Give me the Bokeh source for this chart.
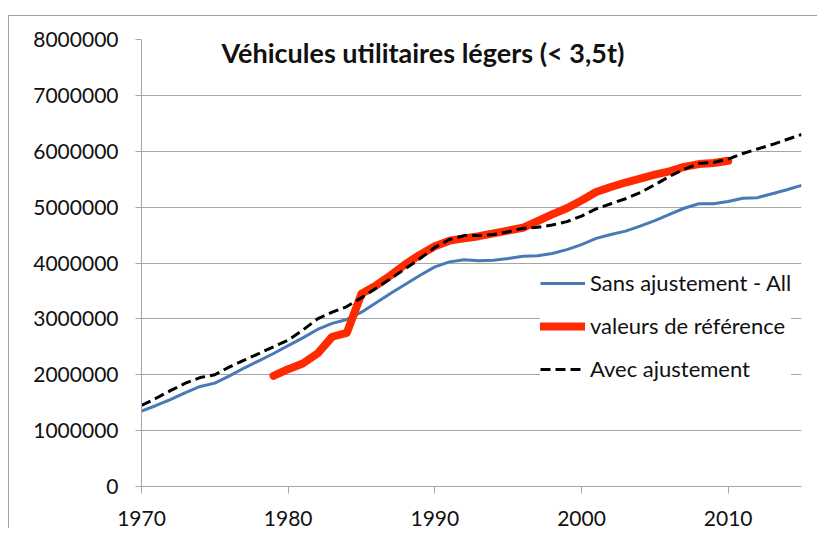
from bokeh.plotting import figure
from bokeh.models import Label, Legend, LegendItem, FixedTicker, PrintfTickFormatter, Range1d
from bokeh.embed import file_html
from bokeh.resources import INLINE

years = list(range(1970, 2016))
sans_ajustement = [1.35, 1.45, 1.56, 1.68, 1.79, 1.85, 1.98, 2.12, 2.25, 2.38,
                   2.52, 2.66, 2.81, 2.92, 2.99, 3.12, 3.29, 3.46, 3.62, 3.78,
                   3.93, 4.02, 4.06, 4.04, 4.05, 4.08, 4.12, 4.13, 4.17, 4.24,
                   4.33, 4.44, 4.51, 4.57, 4.66, 4.76, 4.87, 4.98, 5.06, 5.06,
                   5.10, 5.16, 5.17, 5.24, 5.31, 5.39]
avec_ajustement = [1.45, 1.58, 1.72, 1.85, 1.95, 2.00, 2.14, 2.26, 2.38, 2.50,
                   2.62, 2.80, 3.00, 3.12, 3.22, 3.38, 3.55, 3.72, 3.90, 4.08,
                   4.28, 4.42, 4.49, 4.49, 4.51, 4.56, 4.62, 4.64, 4.68, 4.74,
                   4.84, 4.97, 5.06, 5.15, 5.26, 5.40, 5.55, 5.68, 5.78, 5.80,
                   5.86, 5.96, 6.04, 6.12, 6.21, 6.30]
ref_years = list(range(1979, 2011))
valeurs_reference = [1.98, 2.10, 2.20, 2.38, 2.68, 2.75, 3.45, 3.60, 3.78, 3.98,
                     4.15, 4.30, 4.40, 4.44, 4.48, 4.53, 4.58, 4.63, 4.75, 4.87,
                     4.98, 5.12, 5.27, 5.36, 5.44, 5.51, 5.58, 5.64, 5.72, 5.77,
                     5.79, 5.83]
x_ticks = [1970, 1980, 1990, 2000, 2010]
y_ticks = [0, 1000000, 2000000, 3000000, 4000000, 5000000, 6000000, 7000000, 8000000]
title_text = "Véhicules utilitaires légers (< 3,5t)"
labels = ["Sans ajustement - All", "valeurs de référence", "Avec ajustement"]

M = 1000000
sans = [v * M for v in sans_ajustement]
avec = [v * M for v in avec_ajustement]
ref = [v * M for v in valeurs_reference]

FONT = "Lato"
GRAY = "#a6a6a6"

p = figure(frame_width=660, frame_height=447, output_backend="svg", toolbar_location=None,
           x_range=Range1d(1970, 2015), y_range=Range1d(0, 8000000),
           min_border_left=132, min_border_top=23, min_border_right=16, min_border_bottom=41)
p.styles = {"margin-left": "8px", "margin-top": "15px",
            "border-left": "1px solid #a0a0a0", "border-top": "1px solid #a0a0a0"}
p.outline_line_color = None
p.background_fill_color = "white"
p.border_fill_color = "white"

p.xgrid.visible = False
p.ygrid.grid_line_color = GRAY
p.ygrid.grid_line_width = 1

p.xaxis.ticker = FixedTicker(ticks=x_ticks)
p.yaxis.ticker = FixedTicker(ticks=y_ticks)
p.yaxis.formatter = PrintfTickFormatter(format="%d")
for ax in (p.xaxis, p.yaxis):
    ax.axis_line_color = GRAY
    ax.major_tick_line_color = GRAY
    ax.minor_tick_line_color = None
    ax.major_tick_in = 0
    ax.major_label_text_font = FONT
    ax.major_label_text_font_size = "21px"
    ax.major_label_text_color = "#111111"
p.xaxis.major_tick_out = 7
p.yaxis.major_tick_out = 6
p.xaxis.major_label_standoff = 17
p.yaxis.major_label_standoff = 17

r1 = p.line(years, sans, line_color="#4a7ab5", line_width=3, line_join="round")
r2 = p.line(ref_years, ref, line_color="#ff2a00", line_width=8, line_cap="round", line_join="round")
r3 = p.line(years, avec, line_color="black", line_width=3, line_dash="10 5", line_join="round")

p.add_layout(Label(x=1975.45, y=7770000, text=title_text, text_font=FONT,
                   text_font_style="bold", text_font_size="27px", text_baseline="middle",
                   text_color="#111111"))

legend = Legend(items=[LegendItem(label=labels[0], renderers=[r1]),
                       LegendItem(label=labels[1], renderers=[r2]),
                       LegendItem(label=labels[2], renderers=[r3])],
                location=(399, 104), glyph_width=45, glyph_height=20, label_height=20,
                spacing=16, padding=5, label_standoff=5, border_line_color=None,
                background_fill_color="white", background_fill_alpha=1.0,
                label_text_font=FONT, label_text_font_size="22px", label_text_color="#111111",
                margin=0)
p.add_layout(legend)

open("out.html", "w").write(file_html(p, INLINE))
